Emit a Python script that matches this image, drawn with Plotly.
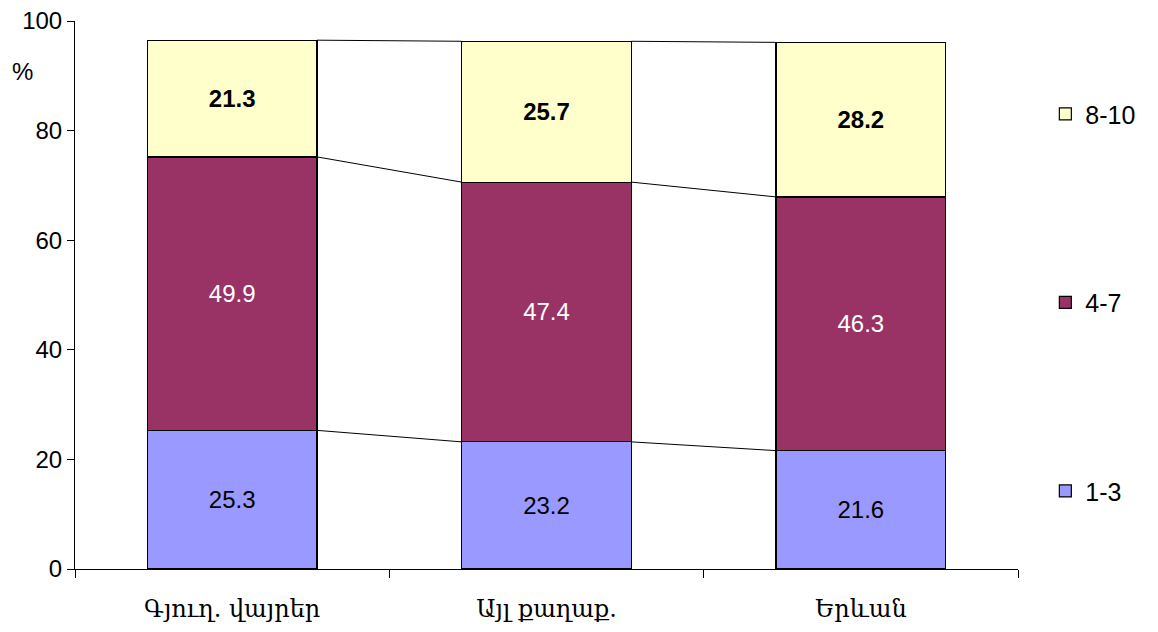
import numpy as np
import plotly.graph_objects as go

# ── Data ──────────────────────────────────────────────────────────────────────
CATEGORIES = ["Գյուղ. վայրեր", "Այլ քաղաք.", "Երևան"]
SERIES = ["1-3", "4-7", "8-10"]
VAL_1_3 = [25.3, 23.2, 21.6]
VAL_4_7 = [49.9, 47.4, 46.3]
VAL_8_10 = [21.3, 25.7, 28.2]
Y_TICKS = [0, 20, 40, 60, 80, 100]

# ── Style ─────────────────────────────────────────────────────────────────────
COLORS = ["#9999FF", "#993366", "#FFFFCC"]
TEXT_COLORS = ["#000000", "#FFFFFF", "#000000"]
BAR_WIDTH = 0.54
TICK_FONT = "Liberation Sans, Arial, sans-serif"
CAT_FONT = "DejaVu Serif, serif"

values = [VAL_1_3, VAL_4_7, VAL_8_10]
xpos = np.arange(len(CATEGORIES))

fig = go.Figure()
for i, (name, vals) in enumerate(zip(SERIES, values)):
    fig.add_trace(go.Bar(
        x=xpos, y=vals, name=name, width=BAR_WIDTH,
        marker=dict(color=COLORS[i], line=dict(color="#000000", width=1.2)),
        text=[f"{v:.1f}" for v in vals],
        textposition="inside", insidetextanchor="middle",
        textfont=dict(size=24, color=TEXT_COLORS[i], family=TICK_FONT,
                      weight="bold" if i == 2 else "normal"),
        legendgroup=name, legendrank=len(SERIES) - i,
    ))

# series lines between stacked segment tops
cum = np.cumsum(np.array(values), axis=0)
for level in cum:
    for j in range(len(CATEGORIES) - 1):
        fig.add_trace(go.Scatter(
            x=[xpos[j] + BAR_WIDTH / 2, xpos[j + 1] - BAR_WIDTH / 2],
            y=[level[j], level[j + 1]],
            mode="lines", line=dict(color="#000000", width=1),
            showlegend=False, hoverinfo="skip",
        ))

fig.add_annotation(
    text="%", xref="paper", yref="paper", x=-0.069, y=0.936,
    showarrow=False, font=dict(size=24, family=TICK_FONT, color="#000000"),
)

# page body has an 8px margin, so the figure is offset inside the window
fig.update_layout(
    barmode="stack",
    width=1150, height=616,
    paper_bgcolor="white", plot_bgcolor="white",
    margin=dict(l=67, r=140, t=13, b=55),
    font=dict(family=TICK_FONT, color="#000000"),
    legend=dict(
        traceorder="grouped", x=1.029, y=0.872, yanchor="top",
        font=dict(size=25, family=TICK_FONT), tracegroupgap=153,
        itemwidth=30,
    ),
)
fig.update_xaxes(
    range=[-0.5, len(CATEGORIES) - 0.5], automargin=False,
    tickvals=xpos, ticktext=CATEGORIES, ticks="outside", ticklen=18,
    tickcolor="rgba(0,0,0,0)",
    tickfont=dict(size=24, family=CAT_FONT),
    showline=True, linecolor="#000000", linewidth=1,
    showgrid=False, zeroline=False,
    minor=dict(tickvals=np.arange(len(CATEGORIES) + 1) - 0.5,
               ticks="outside", ticklen=8, tickcolor="#000000"),
)
fig.update_yaxes(
    range=[0, 100], tickvals=Y_TICKS, ticks="outside", ticklen=7,
    automargin=False, ticklabeloverflow="allow",
    tickcolor="#000000", tickfont=dict(size=24, family=TICK_FONT),
    showline=True, linecolor="#000000", linewidth=1,
    showgrid=False, zeroline=False,
)

fig.write_html("out.html")
